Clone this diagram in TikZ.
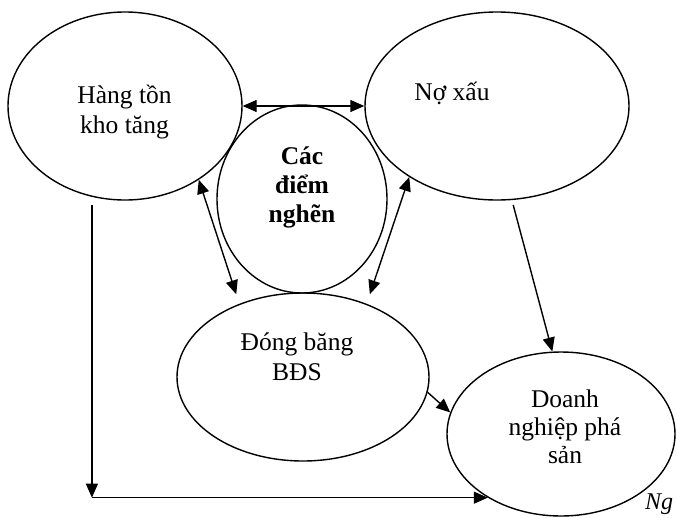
\documentclass[tikz,border=0pt]{standalone}
\usepackage{fontspec}
\setmainfont{Liberation Serif}
\usetikzlibrary{arrows.meta,shapes.geometric}
\begin{document}
\begin{tikzpicture}[x=1pt,y=-1pt,
  oval/.style={draw, ellipse, line width=1.4pt, inner sep=0pt},
  txt/.style={font=\fontsize{25.5}{30}\selectfont, inner sep=0pt, anchor=base},
  btxt/.style={txt, font=\fontsize{25.5}{30}\selectfont\bfseries},
  arr/.style={line width=1.4pt, -{Triangle[length=14pt,width=12pt]}},
  darr/.style={line width=1.4pt, {Triangle[length=14pt,width=12pt]}-{Triangle[length=14pt,width=12pt]}}]
\useasboundingbox (0,0) rectangle (677,517);
\fill[white] (0,0) rectangle (677,517);

% ellipses
\node[oval, minimum width=234pt, minimum height=188pt] (e1) at (125,106) {};
\node[oval, minimum width=264pt, minimum height=188pt] (e2) at (497,106) {};
\node[oval, minimum width=170pt, minimum height=188pt] (ec) at (302,199) {};
\node[oval, minimum width=252pt, minimum height=168pt] (db) at (303,377) {};
\node[oval, minimum width=228pt, minimum height=164pt] (dn) at (561,434) {};

% texts
\node[txt] (t1a) at (124.5,103) {Hàng tồn};
\node[txt] (t1b) at (124.5,133) {kho tăng};
\node[txt] (t2) at (452,100) {Nợ xấu};
\node[btxt] (tca) at (302,164) {Các};
\node[btxt] (tcb) at (302,193) {điểm};
\node[btxt] (tcc) at (302,222) {nghẽn};
\node[txt] (tda) at (297,350) {Đóng băng};
\node[txt] (tdb) at (297,380) {BĐS};
\node[txt] (tna) at (565,407) {Doanh};
\node[txt] (tnb) at (565,435) {nghiệp phá};
\node[txt] (tnc) at (565,463) {sản};
\node[txt, anchor=base west, font=\fontsize{24}{30}\selectfont\itshape] (src) at (645,509) {Ng};

% connectors
\draw[darr] (e1.east) -- (e2.west);
\draw[darr, shorten >=10pt] (e1.-45) -- (db.131);
\draw[darr, shorten >=10pt] (e2.-141) -- (db.49);
\draw[arr, shorten <=5pt] (e2.-81) -- (dn.96);
\draw[arr] (db.-7) -- (dn.169);
\coordinate (corner) at (e1.-110 |- dn.-139);
\draw[arr, shorten <=8pt] (e1.-110) -- (corner);
\draw[arr] (corner) -- (dn.-139);
\end{tikzpicture}
\end{document}
